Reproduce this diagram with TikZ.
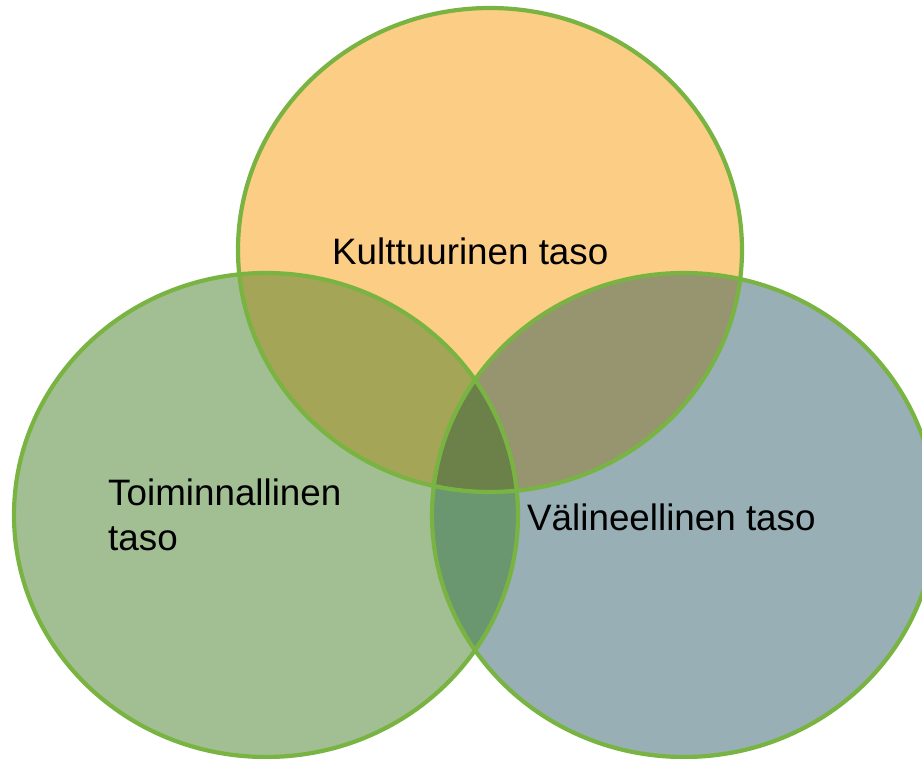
\documentclass[tikz,border=0pt]{standalone}
\usepackage{fontspec}
\setmainfont{Liberation Sans}
\definecolor{rimgreen}{HTML}{79B443}
\definecolor{kultfill}{HTML}{FCCD84}
\definecolor{toimfill}{HTML}{A2BE93}
\definecolor{valifill}{HTML}{97AFB5}
\definecolor{ktfill}{HTML}{A4A557}
\definecolor{kvfill}{HTML}{969570}
\definecolor{tvfill}{HTML}{6A9770}
\definecolor{allfill}{HTML}{6B8149}
\begin{document}
\begin{tikzpicture}[x=1pt,y=-1pt,x radius=252pt,y radius=242pt,
    rim/.style={draw=rimgreen,line width=4.2pt},
    lbl/.style={inner sep=0pt,font=\fontsize{36.8}{44}\selectfont}]
  \useasboundingbox (0,0) rectangle (922,759);
  \coordinate (kult) at (490,250);
  \coordinate (toim) at (266,515);
  \coordinate (vali) at (684,515);
  % plain areas
  \fill[kultfill] (kult) circle[];
  \fill[toimfill] (toim) circle[];
  \fill[valifill] (vali) circle[];
  % overlaps
  \begin{scope}
    \clip (toim) circle[];
    \fill[tvfill] (vali) circle[];
  \end{scope}
  \begin{scope}
    \clip (kult) circle[];
    \fill[ktfill] (toim) circle[];
    \fill[kvfill] (vali) circle[];
    \clip (toim) circle[];
    \fill[allfill] (vali) circle[];
  \end{scope}
  \draw[rim] (toim) circle[];
  \draw[rim] (vali) circle[];
  \draw[rim] (kult) circle[];
  \node[lbl,anchor=base west] (kulttxt) at (332,265) {Kulttuurinen taso};
  \node[lbl,anchor=base west,align=left] (toimtxt) at (108,550) {Toiminnallinen\\taso};
  \node[lbl,anchor=base west] (valitxt) at (527,530) {Välineellinen taso};
\end{tikzpicture}
\end{document}
